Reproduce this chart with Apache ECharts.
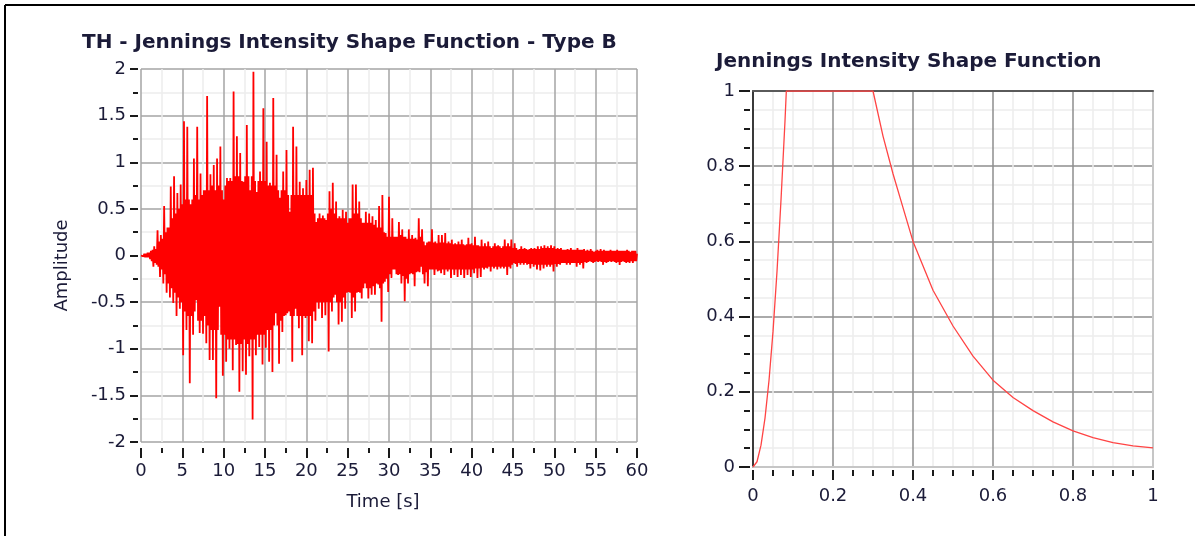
<!DOCTYPE html>
<html><head><meta charset="utf-8">
<script src="https://cdn.jsdelivr.net/npm/echarts@6/dist/echarts.min.js"></script>
<style>html,body{margin:0;padding:0;background:#fff}#c{width:1195px;height:536px}</style>
</head><body><div id="c"></div>
<script>
// ---- Data ----
// The time history is read as alternating upper / lower excursions:
// upper[j] at t = j*0.2 s, lower[j] at t = j*0.2 + 0.1 s.
const sampleStep = 0.2;
const upper = [
  0.00, 0.02, 0.02, 0.02, 0.03,
  0.03, 0.05, 0.06, 0.10, 0.07,
  0.27, 0.15, 0.22, 0.18, 0.53,
  0.25, 0.30, 0.30, 0.74, 0.40,
  0.85, 0.45, 0.67, 0.50, 0.76,
  0.55, 1.44, 0.60, 1.38, 0.60,
  0.55, 0.60, 1.04, 0.65, 1.38,
  0.60, 0.88, 0.65, 0.70, 0.70,
  1.71, 0.70, 0.87, 0.75, 0.97,
  0.70, 1.04, 0.75, 1.17, 0.70,
  0.60, 0.75, 0.83, 0.80, 0.83,
  0.80, 1.76, 0.85, 1.28, 0.85,
  1.10, 0.80, 0.79, 0.85, 1.40,
  0.85, 0.70, 0.85, 1.97, 0.80,
  0.68, 0.80, 0.90, 0.80, 1.58,
  0.80, 1.22, 0.75, 0.78, 0.75,
  1.69, 0.75, 1.08, 0.70, 0.62,
  0.70, 0.90, 0.70, 1.13, 0.65,
  0.47, 0.65, 1.38, 0.65, 1.17,
  0.65, 0.79, 0.65, 0.72, 0.65,
  0.81, 0.65, 0.92, 0.65, 0.94,
  0.45, 0.36, 0.40, 0.45, 0.40,
  0.43, 0.40, 0.38, 0.45, 0.69,
  0.50, 0.78, 0.45, 0.58, 0.40,
  0.42, 0.40, 0.49, 0.40, 0.47,
  0.35, 0.40, 0.40, 0.76, 0.45,
  0.76, 0.45, 0.58, 0.40, 0.35,
  0.35, 0.47, 0.35, 0.45, 0.35,
  0.42, 0.33, 0.38, 0.30, 0.53,
  0.30, 0.65, 0.25, 0.24, 0.20,
  0.63, 0.20, 0.40, 0.20, 0.20,
  0.20, 0.36, 0.22, 0.28, 0.20,
  0.20, 0.18, 0.28, 0.18, 0.22,
  0.18, 0.19, 0.17, 0.40, 0.20,
  0.28, 0.15, 0.11, 0.14, 0.15,
  0.15, 0.28, 0.14, 0.15, 0.13,
  0.22, 0.14, 0.22, 0.14, 0.24,
  0.13, 0.15, 0.13, 0.17, 0.12,
  0.13, 0.12, 0.15, 0.12, 0.17,
  0.12, 0.11, 0.12, 0.19, 0.12,
  0.13, 0.11, 0.20, 0.11, 0.11,
  0.10, 0.17, 0.10, 0.13, 0.10,
  0.15, 0.10, 0.08, 0.10, 0.13,
  0.10, 0.11, 0.10, 0.08, 0.10,
  0.17, 0.10, 0.13, 0.10, 0.17,
  0.08, 0.13, 0.08, 0.06, 0.07,
  0.10, 0.07, 0.08, 0.07, 0.06,
  0.07, 0.08, 0.07, 0.08, 0.07,
  0.10, 0.07, 0.10, 0.08, 0.11,
  0.08, 0.10, 0.08, 0.11, 0.08,
  0.10, 0.07, 0.08, 0.07, 0.08,
  0.06, 0.06, 0.06, 0.07, 0.06,
  0.08, 0.06, 0.06, 0.06, 0.08,
  0.06, 0.06, 0.06, 0.07, 0.05,
  0.06, 0.05, 0.07, 0.05, 0.04,
  0.05, 0.06, 0.05, 0.07, 0.05,
  0.06, 0.05, 0.05, 0.05, 0.06,
  0.05, 0.05, 0.05, 0.06, 0.05,
  0.05, 0.05, 0.05, 0.05, 0.06,
  0.05, 0.04, 0.05, 0.05, 0.05,
  0.02
];
const lower = [
  -0.01, -0.01, -0.02, -0.02, -0.02,
  -0.04, -0.06, -0.12, -0.08, -0.10,
  -0.12, -0.23, -0.15, -0.30, -0.20,
  -0.40, -0.30, -0.45, -0.35, -0.51,
  -0.40, -0.65, -0.45, -0.57, -0.50,
  -1.07, -0.60, -0.80, -0.65, -1.37,
  -0.65, -0.85, -0.60, -0.48, -0.70,
  -0.83, -0.70, -0.84, -0.65, -0.94,
  -0.75, -1.12, -0.80, -1.12, -0.80,
  -1.53, -0.80, -0.55, -0.85, -1.29,
  -0.85, -1.14, -0.90, -1.00, -0.90,
  -1.23, -0.90, -0.96, -0.95, -1.46,
  -0.95, -1.24, -0.90, -1.28, -0.95,
  -1.08, -0.90, -1.76, -0.90, -1.07,
  -0.85, -0.98, -0.85, -1.17, -0.85,
  -0.99, -0.80, -1.14, -0.80, -1.25,
  -0.75, -0.62, -0.75, -1.16, -0.70,
  -0.82, -0.65, -0.64, -0.62, -0.60,
  -0.65, -1.14, -0.65, -0.57, -0.65,
  -0.78, -0.65, -1.07, -0.65, -0.67,
  -0.65, -0.92, -0.65, -0.94, -0.60,
  -0.70, -0.50, -0.57, -0.50, -0.67,
  -0.50, -0.64, -0.50, -1.03, -0.50,
  -0.60, -0.45, -0.42, -0.50, -0.74,
  -0.50, -0.71, -0.45, -0.57, -0.40,
  -0.39, -0.40, -0.67, -0.45, -0.60,
  -0.40, -0.39, -0.40, -0.46, -0.35,
  -0.30, -0.35, -0.46, -0.35, -0.42,
  -0.33, -0.42, -0.30, -0.31, -0.35,
  -0.71, -0.30, -0.28, -0.25, -0.39,
  -0.20, -0.24, -0.15, -0.15, -0.20,
  -0.21, -0.20, -0.30, -0.22, -0.49,
  -0.25, -0.30, -0.20, -0.19, -0.20,
  -0.33, -0.18, -0.17, -0.18, -0.12,
  -0.20, -0.30, -0.18, -0.33, -0.15,
  -0.15, -0.15, -0.21, -0.15, -0.17,
  -0.16, -0.19, -0.15, -0.21, -0.15,
  -0.17, -0.15, -0.24, -0.15, -0.21,
  -0.15, -0.23, -0.15, -0.21, -0.15,
  -0.24, -0.15, -0.21, -0.15, -0.23,
  -0.15, -0.19, -0.14, -0.24, -0.14,
  -0.23, -0.13, -0.15, -0.13, -0.14,
  -0.12, -0.17, -0.12, -0.14, -0.12,
  -0.15, -0.12, -0.14, -0.12, -0.14,
  -0.12, -0.21, -0.12, -0.14, -0.10,
  -0.08, -0.09, -0.12, -0.08, -0.10,
  -0.08, -0.10, -0.08, -0.10, -0.09,
  -0.14, -0.09, -0.12, -0.10, -0.15,
  -0.10, -0.16, -0.10, -0.14, -0.10,
  -0.12, -0.10, -0.12, -0.10, -0.17,
  -0.09, -0.12, -0.09, -0.10, -0.08,
  -0.08, -0.08, -0.10, -0.08, -0.10,
  -0.08, -0.08, -0.08, -0.12, -0.08,
  -0.10, -0.08, -0.14, -0.07, -0.08,
  -0.07, -0.06, -0.07, -0.08, -0.07,
  -0.06, -0.07, -0.06, -0.07, -0.10,
  -0.07, -0.08, -0.07, -0.06, -0.07,
  -0.06, -0.07, -0.08, -0.07, -0.10,
  -0.07, -0.06, -0.07, -0.08, -0.07,
  -0.08, -0.06, -0.08, -0.06, -0.06
];
const shapeT = [0, 0.01, 0.02, 0.03, 0.04, 0.05, 0.06, 0.07, 0.08, 0.0833, 0.3,
  0.325, 0.35, 0.375, 0.4, 0.45, 0.5, 0.55, 0.6, 0.65, 0.7, 0.75, 0.8, 0.85, 0.9, 0.95, 1.0];
const shapeI = [0, 0.014, 0.058, 0.13, 0.23, 0.36, 0.52, 0.71, 0.92, 1.0, 1.0,
  0.88, 0.78, 0.69, 0.6, 0.47, 0.375, 0.295, 0.231, 0.185, 0.15, 0.12, 0.096, 0.078, 0.065, 0.056, 0.051];
const titleLeft = 'TH - Jennings Intensity Shape Function - Type B';
const titleRight = 'Jennings Intensity Shape Function';
const xNameLeft = 'Time [s]';
const yNameLeft = 'Amplitude';

// ---- Styling ----
const FONT = '"DejaVu Sans", sans-serif';
const TXT = '#1b1b38';
const TICK = '#1a1a1a';
const MAJOR = '#a4a4a4';
const MINOR = '#ededed';
const LABEL_SIZE = 18;

const thData = [];
upper.forEach((u, j) => {
  const t = Math.round(j * sampleStep * 100) / 100;
  thData.push([t, u]);
  if (j < lower.length) thData.push([Math.round((t + sampleStep / 2) * 100) / 100, lower[j]]);
});
const shapeData = shapeT.map((t, i) => [t, shapeI[i]]);

const lbl = (margin) => ({margin, fontSize: LABEL_SIZE, color: TXT, fontFamily: FONT});
const tick = (len) => ({show: true, length: len, lineStyle: {color: TICK, width: 2}});
const minor = (n, len) => ({show: true, splitNumber: n, length: len, lineStyle: {color: TICK, width: 2}});

const chart = echarts.init(document.getElementById('c'), null, {renderer: 'canvas'});
chart.setOption({
  animation: false,
  backgroundColor: '#ffffff',
  title: [
    {text: titleLeft, left: 77, top: 28, textStyle: {fontFamily: FONT, fontSize: 20, fontWeight: 'bold', color: TXT}},
    {text: titleRight, left: 711, top: 47, textStyle: {fontFamily: FONT, fontSize: 20, fontWeight: 'bold', color: TXT}}
  ],
  grid: [
    {left: 141, top: 69, width: 496, height: 373},
    {left: 753, top: 91, width: 400, height: 376}
  ],
  xAxis: [
    {gridIndex: 0, type: 'value', min: 0, max: 60, interval: 5, offset: 6,
     axisLine: {show: false, onZero: false}, axisTick: tick(10), minorTick: minor(2, 5),
     axisLabel: lbl(14),
     splitLine: {show: true, lineStyle: {color: MAJOR, width: 1.5}},
     minorSplitLine: {show: true, lineStyle: {color: MINOR, width: 1.5}},
     name: xNameLeft, nameLocation: 'middle', nameGap: 45,
     nameTextStyle: {fontFamily: FONT, fontSize: LABEL_SIZE, color: TXT, padding: [0, 12, 0, 0]}},
    {gridIndex: 1, type: 'value', min: 0, max: 1, interval: 0.2, offset: 3,
     axisLine: {show: false, onZero: false}, axisTick: tick(10), minorTick: minor(4, 6),
     axisLabel: lbl(17),
     splitLine: {show: true, showMaxLine: false, lineStyle: {color: '#8e8e8e', width: 1.5}},
     minorSplitLine: {show: true, lineStyle: {color: MINOR, width: 1.5}}},
    // plot-frame edges of the right chart
    {gridIndex: 1, type: 'value', min: 0, max: 1, position: 'top',
     axisLine: {show: true, onZero: false, lineStyle: {color: '#5a5a5a', width: 2}},
     axisTick: {show: false}, axisLabel: {show: false}, splitLine: {show: false}},
    {gridIndex: 1, type: 'value', min: 0, max: 1, position: 'bottom',
     axisLine: {show: true, onZero: false, lineStyle: {color: '#c6c6c6', width: 2}},
     axisTick: {show: false}, axisLabel: {show: false}, splitLine: {show: false}}
  ],
  yAxis: [
    {gridIndex: 0, type: 'value', min: -2, max: 2, interval: 0.5, offset: 3,
     axisLine: {show: false, onZero: false}, axisTick: tick(8), minorTick: minor(2, 5),
     axisLabel: lbl(12),
     splitLine: {show: true, lineStyle: {color: MAJOR, width: 1.5}},
     minorSplitLine: {show: true, lineStyle: {color: MINOR, width: 1.5}},
     name: yNameLeft, nameLocation: 'middle', nameGap: 67, nameRotate: 90,
     nameTextStyle: {fontFamily: FONT, fontSize: LABEL_SIZE, color: TXT, padding: [0, 20, 0, 0]}},
    {gridIndex: 1, type: 'value', min: 0, max: 1, interval: 0.2, offset: 3,
     axisLine: {show: false, onZero: false}, axisTick: tick(11), minorTick: minor(4, 6),
     axisLabel: lbl(15),
     splitLine: {show: true, showMinLine: false, lineStyle: {color: '#8e8e8e', width: 1.5}},
     minorSplitLine: {show: true, lineStyle: {color: MINOR, width: 1.5}}},
    {gridIndex: 1, type: 'value', min: 0, max: 1, position: 'left',
     axisLine: {show: true, onZero: false, lineStyle: {color: '#3a3a3a', width: 2}},
     axisTick: {show: false}, axisLabel: {show: false}, splitLine: {show: false}},
    {gridIndex: 1, type: 'value', min: 0, max: 1, position: 'right',
     axisLine: {show: true, onZero: false, lineStyle: {color: '#c6c6c6', width: 2}},
     axisTick: {show: false}, axisLabel: {show: false}, splitLine: {show: false}}
  ],
  series: [
    {type: 'line', xAxisIndex: 0, yAxisIndex: 0, data: thData, showSymbol: false,
     lineStyle: {color: '#ff0000', width: 1.8}, sampling: null, z: 3},
    {type: 'line', xAxisIndex: 1, yAxisIndex: 1, data: shapeData, showSymbol: false,
     lineStyle: {color: '#ff4444', width: 1.3}, z: 3}
  ],
  graphic: [
    {type: 'line', shape: {x1: 5, y1: 5, x2: 1195, y2: 5}, style: {stroke: '#000', lineWidth: 2}},
    {type: 'line', shape: {x1: 5, y1: 5, x2: 5, y2: 536}, style: {stroke: '#000', lineWidth: 2}}
  ]
});
</script></body></html>
